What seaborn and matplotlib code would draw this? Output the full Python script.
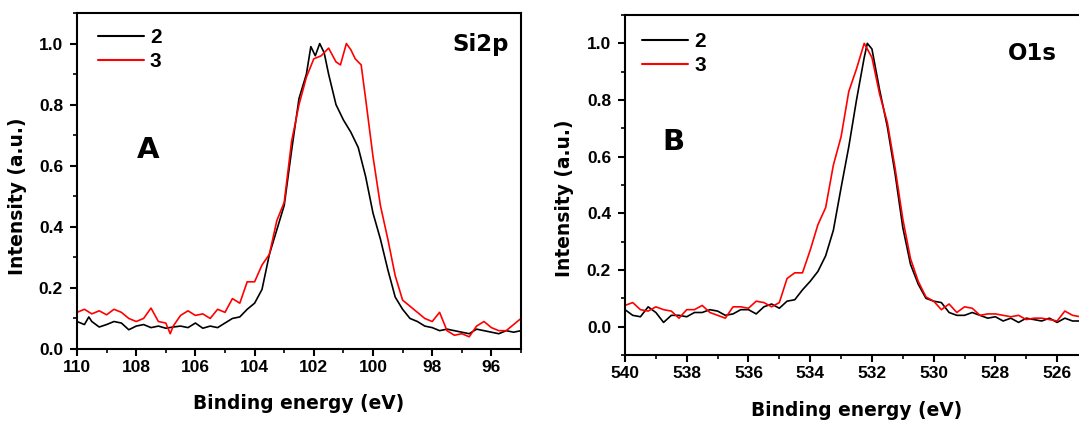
import numpy as np
import pandas as pd
import matplotlib
matplotlib.use("Agg")
import matplotlib.pyplot as plt
from matplotlib.ticker import MultipleLocator, FixedLocator, FormatStrFormatter
import seaborn as sns

# ---------------- data ----------------
si_energy_2 = [110.0, 109.75, 109.6, 109.5, 109.25, 109.0, 108.75, 108.5, 108.25, 108.0,
               107.75, 107.5, 107.25, 107.0, 106.75, 106.5, 106.25, 106.0, 105.75, 105.5,
               105.25, 105.0, 104.75, 104.5, 104.25, 104.0, 103.75, 103.5, 103.25, 103.0,
               102.75, 102.5, 102.25, 102.1, 101.95, 101.8, 101.65, 101.5, 101.25, 101.0,
               100.75, 100.5, 100.25, 100.0, 99.75, 99.5, 99.25, 99.0, 98.75, 98.5,
               98.25, 98.0, 97.75, 97.5, 97.25, 97.0, 96.75, 96.5, 96.25, 96.0,
               95.75, 95.5, 95.25, 95.0]
si_int_2 = [0.09, 0.08, 0.105, 0.09, 0.072, 0.08, 0.09, 0.085, 0.063, 0.075,
            0.08, 0.07, 0.075, 0.068, 0.072, 0.075, 0.07, 0.085, 0.068, 0.075,
            0.07, 0.085, 0.10, 0.105, 0.13, 0.15, 0.195, 0.31, 0.39, 0.47,
            0.65, 0.82, 0.90, 0.99, 0.96, 1.0, 0.97, 0.90, 0.80, 0.75,
            0.71, 0.66, 0.565, 0.445, 0.36, 0.26, 0.17, 0.13, 0.10, 0.09,
            0.075, 0.07, 0.06, 0.065, 0.06, 0.055, 0.05, 0.065, 0.06, 0.055,
            0.05, 0.06, 0.055, 0.06]

si_energy_3 = [110.0, 109.75, 109.5, 109.25, 109.0, 108.75, 108.5, 108.25, 108.0, 107.75,
               107.5, 107.25, 107.0, 106.85, 106.75, 106.5, 106.25, 106.0, 105.75, 105.5,
               105.25, 105.0, 104.75, 104.5, 104.25, 104.0, 103.75, 103.5, 103.25, 103.0,
               102.75, 102.5, 102.25, 102.0, 101.75, 101.5, 101.25, 101.1, 100.9, 100.75,
               100.6, 100.4, 100.25, 100.0, 99.75, 99.5, 99.25, 99.0, 98.75, 98.5,
               98.25, 98.0, 97.75, 97.5, 97.25, 97.0, 96.75, 96.5, 96.25, 96.0,
               95.75, 95.5, 95.25, 95.0]
si_int_3 = [0.12, 0.13, 0.115, 0.125, 0.112, 0.13, 0.12, 0.10, 0.09, 0.10,
            0.134, 0.09, 0.085, 0.05, 0.075, 0.11, 0.125, 0.11, 0.115, 0.10,
            0.13, 0.12, 0.165, 0.15, 0.22, 0.22, 0.275, 0.31, 0.42, 0.48,
            0.68, 0.80, 0.89, 0.95, 0.96, 0.985, 0.94, 0.93, 1.0, 0.98,
            0.95, 0.93, 0.82, 0.63, 0.47, 0.36, 0.24, 0.16, 0.14, 0.12,
            0.10, 0.09, 0.12, 0.06, 0.045, 0.05, 0.04, 0.075, 0.09, 0.07,
            0.06, 0.06, 0.08, 0.10]

o_energy = [540.0, 539.75, 539.5, 539.25, 539.0, 538.75, 538.5, 538.25, 538.0, 537.75,
            537.5, 537.25, 537.0, 536.75, 536.5, 536.25, 536.0, 535.75, 535.5, 535.25,
            535.0, 534.75, 534.5, 534.25, 534.0, 533.75, 533.5, 533.25, 533.0, 532.75,
            532.5, 532.25, 532.15, 532.0, 531.75, 531.5, 531.25, 531.0, 530.75, 530.5,
            530.25, 530.0, 529.75, 529.5, 529.25, 529.0, 528.75, 528.5, 528.25, 528.0,
            527.75, 527.5, 527.25, 527.0, 526.75, 526.5, 526.25, 526.0, 525.75, 525.5,
            525.25, 525.0]
o_int_2 = [0.06, 0.04, 0.035, 0.07, 0.05, 0.015, 0.04, 0.04, 0.035, 0.05,
           0.05, 0.06, 0.055, 0.04, 0.045, 0.06, 0.06, 0.045, 0.07, 0.08,
           0.065, 0.09, 0.095, 0.13, 0.16, 0.195, 0.25, 0.34, 0.49, 0.635,
           0.80, 0.95, 1.0, 0.98, 0.835, 0.705, 0.54, 0.35, 0.22, 0.15,
           0.10, 0.09, 0.085, 0.05, 0.04, 0.04, 0.05, 0.04, 0.03, 0.035,
           0.02, 0.03, 0.015, 0.03, 0.025, 0.02, 0.03, 0.015, 0.03, 0.02,
           0.02, 0.02]
o_int_3 = [0.075, 0.085, 0.06, 0.055, 0.07, 0.06, 0.055, 0.03, 0.06, 0.06,
           0.075, 0.05, 0.04, 0.03, 0.07, 0.07, 0.065, 0.09, 0.085, 0.07,
           0.085, 0.17, 0.19, 0.19, 0.27, 0.36, 0.42, 0.57, 0.67, 0.83,
           0.91, 1.0, 0.98, 0.95, 0.82, 0.72, 0.56, 0.38, 0.24, 0.16,
           0.105, 0.09, 0.06, 0.08, 0.05, 0.07, 0.065, 0.04, 0.045, 0.045,
           0.04, 0.035, 0.04, 0.025, 0.03, 0.03, 0.025, 0.02, 0.055, 0.04,
           0.035, 0.03]

sample_labels = ["2", "3"]
sample_colors = ["black", "red"]
panel_letters = ["A", "B"]
panel_titles = ["Si2p", "O1s"]
x_label = "Binding energy (eV)"
y_label = "Intensity (a.u.)"

# ---------------- tables ----------------
si_df = pd.concat([
    pd.DataFrame({"energy": si_energy_2, "intensity": si_int_2, "sample": sample_labels[0]}),
    pd.DataFrame({"energy": si_energy_3, "intensity": si_int_3, "sample": sample_labels[1]}),
])
o_df = pd.concat([
    pd.DataFrame({"energy": o_energy, "intensity": o_int_2, "sample": sample_labels[0]}),
    pd.DataFrame({"energy": o_energy, "intensity": o_int_3, "sample": sample_labels[1]}),
])
palette = dict(zip(sample_labels, sample_colors))

# ---------------- style ----------------
sns.set_style("ticks")
plt.rcParams["font.family"] = ["Liberation Sans", "DejaVu Sans"]
plt.rcParams["font.weight"] = "bold"
plt.rcParams["axes.linewidth"] = 1.5
for key in ["text.color", "axes.labelcolor", "xtick.color", "ytick.color",
            "axes.edgecolor", "xtick.labelcolor", "ytick.labelcolor"]:
    plt.rcParams[key] = "black"

W, H = 1079, 423
fig = plt.figure(figsize=(W / 100, H / 100), dpi=100)

def px_axes(x0, y0, x1, y1):
    return fig.add_axes([x0 / W, 1 - y1 / H, (x1 - x0) / W, (y1 - y0) / H])

ax1 = px_axes(77, 13, 521, 349)
ax2 = px_axes(625, 15, 1088, 355)

specs = [
    (ax1, si_df, (110, 95), (0.0, 1.1), -0.113, 0.455, (0.047, 0.955)),
    (ax2, o_df, (540, 525), (-0.1, 1.1), -0.11, 0.46, (0.037, 0.95)),
]

for ax, df, xl, yl, ylx, yly, legpos in specs:
    sns.lineplot(data=df, x="energy", y="intensity", hue="sample", palette=palette,
                 estimator=None, sort=True, linewidth=1.2, ax=ax)
    ax.set_xlim(*xl)
    ax.set_ylim(*yl)
    ax.xaxis.set_major_locator(MultipleLocator(2))
    ax.xaxis.set_minor_locator(MultipleLocator(1))
    ax.yaxis.set_major_locator(FixedLocator(np.round(np.arange(0, 1.01, 0.2), 1)))
    ax.yaxis.set_minor_locator(MultipleLocator(0.1))
    ax.yaxis.set_major_formatter(FormatStrFormatter("%.1f"))
    ax.tick_params(axis="both", which="major", direction="out", length=5, width=1.5,
                   labelsize=12.5, pad=3, colors="black")
    ax.tick_params(axis="y", which="major", pad=5)
    ax.tick_params(axis="both", which="minor", direction="out", length=3, width=1.2,
                   colors="black")
    for lab in ax.get_xticklabels() + ax.get_yticklabels():
        lab.set_fontweight("bold")
        lab.set_color("black")
    for s in ax.spines.values():
        s.set_visible(True)
        s.set_linewidth(1.5)
        s.set_color("black")
    ax.set_xlabel(x_label, family="DejaVu Sans", fontweight="bold", fontsize=13.4,
                  color="black")
    ax.set_ylabel(y_label, family="DejaVu Sans", fontweight="bold", fontsize=13.4,
                  color="black")
    ax.yaxis.set_label_coords(ylx, yly)
    ax.xaxis.set_label_coords(0.5, -0.135)
    leg = ax.legend(loc="upper left", bbox_to_anchor=legpos, frameon=False,
                    fontsize=15, handlelength=2.2, handletextpad=0.3,
                    labelspacing=0.25, borderpad=0, borderaxespad=0)
    for t in leg.get_texts():
        t.set_fontweight("bold")
        t.set_color("black")
    for ln in leg.get_lines():
        ln.set_linewidth(1.5)

# panel annotations
txt_kw = dict(family="DejaVu Sans", fontweight="bold", color="black",
              ha="left", va="baseline")
fig.text(137 / W, 1 - 158 / H, panel_letters[0], fontsize=21, **txt_kw)
fig.text(662 / W, 1 - 150 / H, panel_letters[1], fontsize=21, **txt_kw)
fig.text(452 / W, 1 - 51 / H, panel_titles[0], fontsize=16.5, **txt_kw)
fig.text(1008 / W, 1 - 60 / H, panel_titles[1], fontsize=16.5, **txt_kw)

fig.savefig("out.png", dpi=100)
